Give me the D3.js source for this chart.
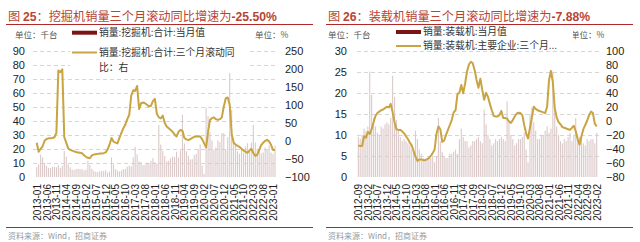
<!DOCTYPE html>
<html><head><meta charset="utf-8">
<script src="https://cdn.jsdelivr.net/npm/d3@7"></script>
<style>
body{margin:0;background:#fff}
svg{display:block}
text{font-family:"Liberation Sans",Arial,"Noto Sans CJK SC",sans-serif}
.cjk{font-family:"Noto Sans CJK SC","Liberation Sans",sans-serif}
</style></head>
<body>
<svg id="c" width="640" height="242"></svg>
<script>
// ---------- DATA ----------
function monthRange(a, b) {
  const out = []; let [y, m] = a.split("-").map(Number); const [ey, em] = b.split("-").map(Number);
  while (y < ey || (y === ey && m <= em)) { out.push(y + "-" + String(m).padStart(2, "0")); m++; if (m > 12) { m = 1; y++; } }
  return out;
}
const excMonths = monthRange("2013-01", "2023-02");
const excBars = [
  7, 9, 16, 14, 10, 8, 6.5, 6.3, 7.2, 7.3, 7, 8.5,
  6.5, 8, 18.5, 14.5, 9, 6.8, 5.3, 5, 5.7, 5.9, 5.5, 5.7,
  4.7, 5.3, 11.5, 8.7, 5.8, 4.5, 3.6, 3.5, 4.1, 4.2, 4.2, 4.8,
  3.2, 3.8, 13.9, 9.0, 5.6, 4.6, 3.9, 4.7, 5.6, 5.8, 7.3, 8.0,
  7.6, 13.9, 21.5, 16.1, 11.2, 10.6, 8.4, 8.7, 10.2, 9.9, 11.5, 13.4,
  10.6, 9.6, 37.0, 23.1, 18.6, 15.0, 11.1, 11.6, 13.4, 14.5, 14.2, 18.0,
  13.8, 18.8, 44.3, 23.8, 18.3, 15.2, 12.5, 12.7, 15.6, 16.5, 19.7, 23.2,
  8.3, 2.2, 49.4, 43.3, 32.0, 26.0, 19.6, 20.9, 26.0, 24.9, 31.2, 31.2,
  19.6, 28.3, 79.0, 47.8, 27.2, 23.1, 18.2, 16.6, 20.1, 17.4, 21.6, 24.0,
  20.0, 24.5, 37.1, 24.5, 20.0, 20.8, 16.9, 17.5, 21.0, 19.3, 22.4, 17.4,
  16.4, 22.3
];
const excYoY = [
  -5, -30, -22, -15, 0, 5, 7, 7, 8, 10, 22, 195,
  190, 198, 10, -5, -21, -25, -27, -29, -31, -32, -33, -34,
  -40, -44, -47, -48, -40, -38, -37, -36, -35, -35, -34, -32,
  -24, -10, 8, -2, -5, -7, 8, 22, 35, 45, 60, 72,
  125, 140, 138, 152, 88, 104, 106, 104, 100, 95, 97, 110,
  116, 75, 65, 62, 70, 50, 40, 35, 30, 25, 18, 12,
  25, 30, 28, 8, 4, 2, 5, 8, 11, 12, 13, 12,
  5, -7, -18, 25, 58, 63, 65, 60, 58, 60, 65, 95,
  118, 120, 100, 20, -5, -10, -14, -17, -22, -27, -30, -33,
  -27, -22, -34, -42, -38, -25, -12, -5, 0, 3, -2, -11,
  -25, -25.5
];
const excXTicks = ["2013-01","2013-06","2013-11","2014-04","2014-09","2015-02","2015-07","2015-12","2016-05","2016-10","2017-03","2017-08","2018-01","2018-06","2018-11","2019-04","2019-09","2020-02","2020-07","2020-12","2021-05","2021-10","2022-03","2022-08","2023-01"];
const excLeftTicks = [0, 10, 20, 30, 40, 50, 60, 70, 80, 90];
const excRightTicks = [-100, -50, 0, 50, 100, 150, 200, 250];

const ldrMonths = monthRange("2012-09", "2023-02");
const ldrBars = [
  9.5, 9.0, 10.0, 11.5,
  11.0, 12.0, 25.0, 19.5, 14.0, 12.0, 10.5, 10.0, 12.0, 11.5, 12.5, 13.0,
  12.5, 14.0, 24.0, 19.0, 13.5, 11.0, 9.5, 8.5, 9.0, 8.5, 8.0, 7.5,
  6.5, 6.0, 11.0, 9.0, 6.5, 5.5, 4.5, 4.0, 4.5, 4.5, 4.5, 5.0,
  3.5, 5.0, 14.0, 8.5, 6.0, 5.0, 4.5, 4.5, 5.5, 5.5, 6.0, 6.5,
  5.5, 9.0, 11.5, 9.5, 8.5, 8.5, 7.0, 7.5, 8.5, 8.5, 9.0, 9.5,
  8.5, 8.0, 16.0, 12.5, 10.0, 9.0, 7.5, 8.0, 9.0, 8.5, 9.0, 9.5,
  9.0, 8.5, 18.0, 13.5, 10.0, 9.0, 7.5, 8.0, 9.0, 9.0, 9.5, 10.5,
  6.5, 3.5, 15.0, 16.5, 13.0, 11.0, 9.0, 9.0, 10.0, 10.0, 11.0, 12.0,
  10.5, 11.5, 25.0, 16.0, 12.0, 10.0, 8.5, 8.0, 9.0, 8.5, 9.5, 10.5,
  8.5, 10.0, 14.0, 10.0, 9.5, 9.5, 8.0, 7.5, 9.0, 8.5, 9.0, 9.0,
  8.0, 10.5
];
const ldrYoY = [
  -35, -36, -36, -22, -24, -16, -19, -12, -2, 7, 11, 13,
  15, 16, 18, 20, 19, 24, 12, -2, -12, -13, -13, -15,
  -18, -22, -26, -31, -35, -43, -51, -57, -55, -55, -56, -56,
  -55, -53, -50, -46, -41, -18, -8, -12, -30, -28, -20, -13,
  -6, 1, 12, 15, 38, 40, 51, 39, 53, 70, 80, 84,
  82, 72, 58, 47, 60, 44, 30, 40, 34, 24, 15, 7,
  6, 6, 8, 14, 4, 4, 3, -1, -3, 1, 6, 10,
  11.5, 11, 8, -6, -18, -25, -10, 5, 20, 17, 15, 14,
  13, 12, 11, 20, 58, 71, 55, 18, 5, -2, -5, -9,
  -10, -11, -12, -13, -10, -7, -15, -26, -34, -22, -12, -6,
  0, 8, 13, 11, -4, -7.88
];
const ldrXTicks = ["2012-09","2013-02","2013-07","2013-12","2014-05","2014-10","2015-03","2015-08","2016-01","2016-06","2016-11","2017-04","2017-09","2018-02","2018-07","2018-12","2019-05","2019-10","2020-03","2020-08","2021-01","2021-06","2021-11","2022-04","2022-09","2023-02"];
const ldrLeftTicks = [0, 5, 10, 15, 20, 25, 30];
const ldrRightTicks = [-80, -60, -40, -20, 0, 20, 40, 60, 80, 100];

// ---------- STYLE / LAYOUT ----------
const C = { title: "#b84434", rule: "#b02828", bar: "#dcc9c9", barLegend: "#7b1515", line: "#c9a443", grid: "#d6d6d6", tick: "#222", unit: "#555", src: "#999" };
const svg = d3.select("#c");

function panel(cfg) {
  const g = svg.append("g");
  // title
  const t = g.append("text").attr("x", cfg.ox + 8).attr("y", 20.5).attr("fill", C.title).attr("font-size", 12.2);
  t.append("tspan").attr("class", "cjk").text("图 ");
  t.append("tspan").attr("font-weight", "bold").text(cfg.num);
  t.append("tspan").attr("class", "cjk").text("：" + cfg.titleText);
  t.append("tspan").attr("font-weight", "bold").text(cfg.titleVal);
  g.append("line").attr("x1", cfg.ox + 6).attr("x2", cfg.ox + 313).attr("y1", 24.5).attr("y2", 24.5).attr("stroke", C.rule).attr("stroke-width", 1);
  g.append("line").attr("x1", cfg.ox + 6).attr("x2", cfg.ox + 313).attr("y1", 227.5).attr("y2", 227.5).attr("stroke", C.rule).attr("stroke-width", 1);
  g.append("text").attr("class", "cjk").attr("x", cfg.ox + 8).attr("y", 239).attr("font-size", 8).attr("fill", C.src).text("资料来源：Wind，招商证券");

  const x = d3.scalePoint().domain(cfg.months).range(cfg.xr);
  const yL = d3.scaleLinear().domain(cfg.yLd).range([177, 50.5]);
  const yR = d3.scaleLinear().domain(cfg.yRd).range([177, 50.5]);

  // grid
  g.append("g").selectAll("line").data(cfg.leftTicks.filter(d => d !== cfg.yLd[0])).join("line")
    .attr("x1", cfg.gx[0]).attr("x2", cfg.gx[1]).attr("y1", d => Math.round(yL(d)) + 0.5).attr("y2", d => Math.round(yL(d)) + 0.5)
    .attr("stroke", C.grid).attr("stroke-dasharray", "4,3");

  // bars
  g.append("g").selectAll("rect").data(cfg.bars).join("rect")
    .attr("x", (d, i) => x(cfg.months[i]) - 0.55).attr("width", 1.1)
    .attr("y", d => yL(d)).attr("height", d => yL(0) - yL(d)).attr("fill", C.bar);

  // line
  g.append("path").datum(cfg.line).attr("fill", "none").attr("stroke", C.line).attr("stroke-width", 2).attr("stroke-linejoin", "round")
    .attr("d", d3.line().x((d, i) => x(cfg.months[i])).y(d => yR(d)));

  // axes
  const aL = g.append("g").attr("transform", `translate(${cfg.lx},0)`).call(d3.axisLeft(yL).tickValues(cfg.leftTicks).tickSize(0).tickPadding(0));
  const aR = g.append("g").attr("transform", `translate(${cfg.rx},0)`).call(d3.axisRight(yR).tickValues(cfg.rightTicks).tickSize(0).tickPadding(0));
  [aL, aR].forEach(a => { a.select(".domain").remove(); a.selectAll("text").attr("font-size", 11).attr("fill", C.tick).attr("font-family", "Liberation Sans, Arial, sans-serif"); });
  const aX = g.append("g").attr("transform", "translate(0,184)").call(d3.axisBottom(x).tickValues(cfg.xTicks).tickSize(0));
  aX.select(".domain").remove();
  aX.selectAll("text").attr("transform", "rotate(-90)").attr("text-anchor", "end").attr("x", 0).attr("y", cfg.xLabShift).attr("dy", "0.35em")
    .attr("font-size", 10).attr("fill", C.tick).attr("font-family", "Liberation Sans, Arial, sans-serif");

  // units
  g.append("text").attr("class", "cjk").attr("x", cfg.unitL).attr("y", 38).attr("font-size", 8.5).attr("fill", C.unit).text("单位：千台");
  g.append("text").attr("class", "cjk").attr("x", cfg.unitR).attr("y", 38).attr("font-size", 8.5).attr("fill", C.unit).text("单位：%");

  // legend
  const L = cfg.legend;
  g.append("rect").attr("x", L.bx).attr("y", 26).attr("width", L.bw).attr("height", L.bh).attr("fill", "#fff");
  g.append("rect").attr("x", L.x).attr("y", L.y1 - 2).attr("width", 25).attr("height", 4).attr("fill", C.barLegend);
  g.append("text").attr("class", "cjk").attr("x", L.x + 27).attr("y", L.y1).attr("dy", "0.35em").attr("font-size", 9.8).attr("fill", "#333").text(L.t1);
  g.append("line").attr("x1", L.x).attr("x2", L.x + 25).attr("y1", L.y2).attr("y2", L.y2).attr("stroke", C.line).attr("stroke-width", 2);
  L.t2.forEach((s, k) => g.append("text").attr("class", "cjk").attr("x", L.x + 27).attr("y", L.y2 + k * 15).attr("dy", "0.35em").attr("font-size", 9.8).attr("fill", "#333").text(s));
}

panel({
  ox: 0, num: "25", titleText: "挖掘机销量三个月滚动同比增速为", titleVal: "-25.50%",
  months: excMonths, bars: excBars, line: excYoY, xTicks: excXTicks,
  leftTicks: excLeftTicks, rightTicks: excRightTicks, yLd: [0, 90], yRd: [-100, 250],
  xr: [36.7, 275], gx: [33, 278], lx: 25, rx: 285, xLabShift: 0,
  unitL: 15, unitR: 255,
  legend: { bx: 70, bw: 180, bh: 47, x: 72, y1: 32.7, y2: 52.5, t1: "销量:挖掘机:合计:当月值", t2: ["销量:挖掘机:合计:三个月滚动同", "比：右"] }
});
panel({
  ox: 320, num: "26", titleText: "装载机销量三个月滚动同比增速为", titleVal: "-7.88%",
  months: ldrMonths, bars: ldrBars, line: ldrYoY, xTicks: ldrXTicks,
  leftTicks: ldrLeftTicks, rightTicks: ldrRightTicks, yLd: [0, 30], yRd: [-80, 100],
  xr: [358.3, 596.7], gx: [357, 599], lx: 347, rx: 606, xLabShift: 0,
  unitL: 328, unitR: 571,
  legend: { bx: 393, bw: 180, bh: 25, x: 396, y1: 32, y2: 46, t1: "销量:装载机:当月值", t2: ["销量:装载机:主要企业:三个月..."] }
});
</script>
</body></html>
